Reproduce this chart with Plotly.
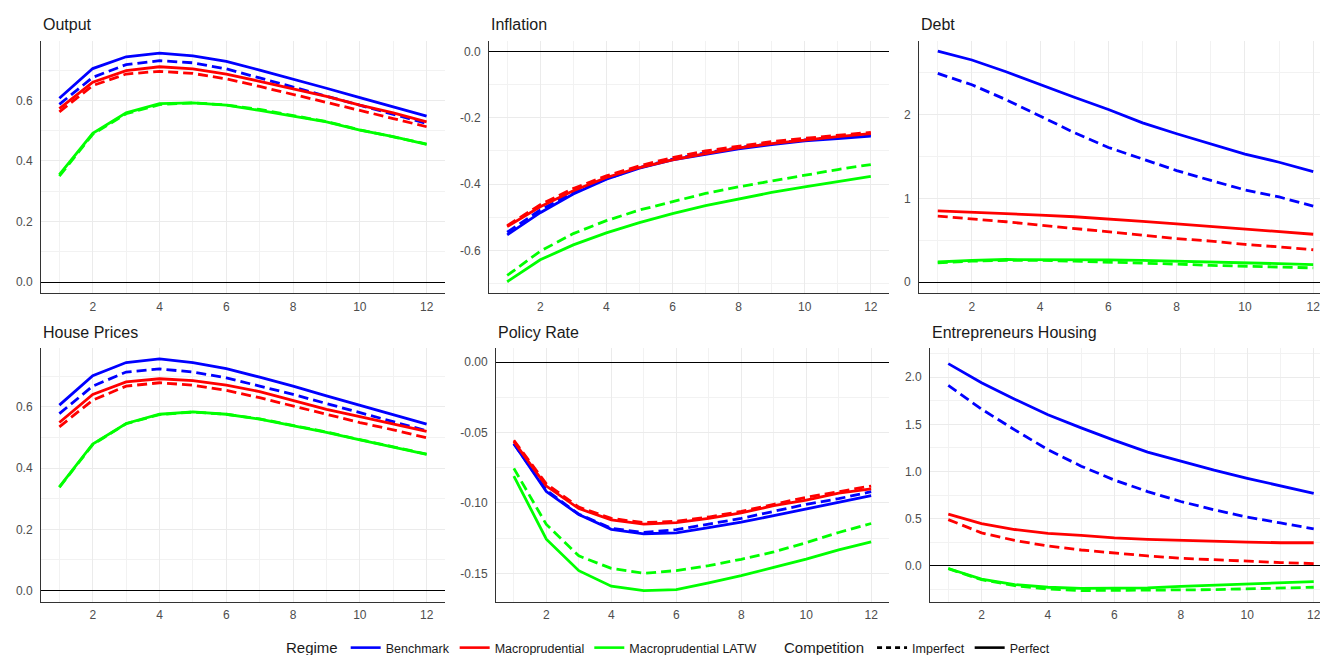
import plotly.graph_objects as go

periods = list(range(1, 13))
regimes = ["Benchmark", "Macroprudential", "Macroprudential LATW"]
competitions = ["Imperfect", "Perfect"]
panel_titles = ["Output", "Inflation", "Debt", "House Prices", "Policy Rate", "Entrepreneurs Housing"]

# ---- data: values for periods 1..12 ----
output_bench_perf = [0.607, 0.705, 0.744, 0.756, 0.747, 0.729, 0.700, 0.671, 0.640, 0.609, 0.578, 0.548]
output_bench_imp = [0.587, 0.676, 0.718, 0.731, 0.724, 0.704, 0.674, 0.644, 0.612, 0.584, 0.554, 0.524]
output_macro_perf = [0.573, 0.660, 0.698, 0.711, 0.704, 0.687, 0.663, 0.638, 0.613, 0.584, 0.559, 0.529]
output_macro_imp = [0.562, 0.649, 0.687, 0.696, 0.689, 0.671, 0.646, 0.620, 0.595, 0.567, 0.540, 0.513]
output_latw_perf = [0.355, 0.491, 0.559, 0.589, 0.592, 0.584, 0.567, 0.548, 0.529, 0.502, 0.480, 0.455]
output_latw_imp = [0.350, 0.488, 0.556, 0.586, 0.592, 0.585, 0.570, 0.550, 0.530, 0.503, 0.480, 0.456]

infl_bench_perf = [-0.553, -0.486, -0.430, -0.385, -0.352, -0.327, -0.310, -0.294, -0.281, -0.270, -0.263, -0.255]
infl_bench_imp = [-0.545, -0.478, -0.425, -0.384, -0.350, -0.325, -0.306, -0.290, -0.278, -0.267, -0.259, -0.252]
infl_macro_perf = [-0.528, -0.468, -0.420, -0.380, -0.350, -0.327, -0.308, -0.291, -0.278, -0.267, -0.257, -0.248]
infl_macro_imp = [-0.525, -0.462, -0.413, -0.375, -0.345, -0.320, -0.300, -0.285, -0.272, -0.262, -0.253, -0.244]
infl_latw_perf = [-0.694, -0.628, -0.583, -0.547, -0.516, -0.489, -0.465, -0.444, -0.425, -0.408, -0.392, -0.377]
infl_latw_imp = [-0.675, -0.602, -0.549, -0.510, -0.478, -0.452, -0.428, -0.408, -0.390, -0.372, -0.356, -0.341]

debt_bench_perf = [2.756, 2.650, 2.510, 2.354, 2.205, 2.060, 1.900, 1.770, 1.646, 1.528, 1.430, 1.319]
debt_bench_imp = [2.490, 2.354, 2.177, 1.980, 1.783, 1.606, 1.470, 1.331, 1.213, 1.100, 1.016, 0.906]
debt_macro_perf = [0.850, 0.835, 0.820, 0.800, 0.780, 0.755, 0.725, 0.695, 0.665, 0.635, 0.600, 0.571]
debt_macro_imp = [0.787, 0.755, 0.720, 0.680, 0.640, 0.600, 0.560, 0.520, 0.490, 0.450, 0.420, 0.386]
debt_latw_perf = [0.240, 0.260, 0.270, 0.270, 0.270, 0.265, 0.260, 0.250, 0.240, 0.230, 0.220, 0.210]
debt_latw_imp = [0.230, 0.250, 0.260, 0.260, 0.250, 0.240, 0.230, 0.215, 0.200, 0.190, 0.180, 0.170]

house_bench_perf = [0.606, 0.702, 0.745, 0.757, 0.745, 0.725, 0.697, 0.668, 0.636, 0.606, 0.574, 0.544]
house_bench_imp = [0.578, 0.668, 0.714, 0.724, 0.714, 0.695, 0.668, 0.641, 0.611, 0.582, 0.553, 0.522]
house_macro_perf = [0.549, 0.641, 0.682, 0.692, 0.686, 0.671, 0.650, 0.622, 0.592, 0.568, 0.544, 0.520]
house_macro_imp = [0.535, 0.622, 0.668, 0.679, 0.671, 0.654, 0.630, 0.603, 0.576, 0.549, 0.525, 0.499]
house_latw_perf = [0.339, 0.479, 0.546, 0.576, 0.584, 0.576, 0.560, 0.539, 0.517, 0.492, 0.469, 0.445]
house_latw_imp = [0.337, 0.477, 0.545, 0.575, 0.583, 0.576, 0.561, 0.540, 0.518, 0.493, 0.470, 0.446]

rate_bench_perf = [-0.0579, -0.0919, -0.1083, -0.1188, -0.1219, -0.1212, -0.1176, -0.1137, -0.1090, -0.1043, -0.0996, -0.0949]
rate_bench_imp = [-0.0580, -0.0910, -0.1080, -0.1180, -0.1210, -0.1190, -0.1150, -0.1110, -0.1060, -0.1010, -0.0970, -0.0920]
rate_macro_perf = [-0.0565, -0.0880, -0.1040, -0.1120, -0.1150, -0.1140, -0.1110, -0.1070, -0.1020, -0.0980, -0.0930, -0.0900]
rate_macro_imp = [-0.0555, -0.0865, -0.1030, -0.1110, -0.1140, -0.1130, -0.1100, -0.1060, -0.1010, -0.0960, -0.0920, -0.0880]
rate_latw_perf = [-0.0809, -0.1258, -0.1481, -0.1591, -0.1622, -0.1615, -0.1568, -0.1516, -0.1458, -0.1399, -0.1333, -0.1277]
rate_latw_imp = [-0.0755, -0.1153, -0.1376, -0.1465, -0.1500, -0.1480, -0.1446, -0.1400, -0.1348, -0.1282, -0.1210, -0.1146]

ent_bench_perf = [2.143, 1.940, 1.766, 1.601, 1.462, 1.329, 1.206, 1.108, 1.014, 0.927, 0.846, 0.769]
ent_bench_imp = [1.913, 1.661, 1.441, 1.231, 1.056, 0.909, 0.787, 0.682, 0.594, 0.517, 0.455, 0.392]
ent_macro_perf = [0.549, 0.448, 0.385, 0.343, 0.322, 0.297, 0.280, 0.269, 0.262, 0.252, 0.245, 0.245]
ent_macro_imp = [0.490, 0.350, 0.269, 0.210, 0.168, 0.133, 0.105, 0.080, 0.063, 0.045, 0.035, 0.024]
ent_latw_perf = [-0.028, -0.140, -0.199, -0.227, -0.238, -0.238, -0.234, -0.217, -0.203, -0.192, -0.182, -0.168]
ent_latw_imp = [-0.030, -0.147, -0.210, -0.245, -0.262, -0.262, -0.262, -0.255, -0.252, -0.245, -0.238, -0.227]

x_tick_vals = [2, 4, 6, 8, 10, 12]
y_tick_vals = [
    [0.0, 0.2, 0.4, 0.6],
    [-0.6, -0.4, -0.2, 0.0],
    [0, 1, 2],
    [0.0, 0.2, 0.4, 0.6],
    [-0.15, -0.10, -0.05, 0.00],
    [0.0, 0.5, 1.0, 1.5, 2.0],
]
y_tick_text = [
    ["0.0", "0.2", "0.4", "0.6"],
    ["-0.6", "-0.4", "-0.2", "0.0"],
    ["0", "1", "2"],
    ["0.0", "0.2", "0.4", "0.6"],
    ["-0.15", "-0.10", "-0.05", "0.00"],
    ["0.0", "0.5", "1.0", "1.5", "2.0"],
]

panels = [
    {"Benchmark": (output_bench_imp, output_bench_perf), "Macroprudential": (output_macro_imp, output_macro_perf), "Macroprudential LATW": (output_latw_imp, output_latw_perf)},
    {"Benchmark": (infl_bench_imp, infl_bench_perf), "Macroprudential": (infl_macro_imp, infl_macro_perf), "Macroprudential LATW": (infl_latw_imp, infl_latw_perf)},
    {"Benchmark": (debt_bench_imp, debt_bench_perf), "Macroprudential": (debt_macro_imp, debt_macro_perf), "Macroprudential LATW": (debt_latw_imp, debt_latw_perf)},
    {"Benchmark": (house_bench_imp, house_bench_perf), "Macroprudential": (house_macro_imp, house_macro_perf), "Macroprudential LATW": (house_latw_imp, house_latw_perf)},
    {"Benchmark": (rate_bench_imp, rate_bench_perf), "Macroprudential": (rate_macro_imp, rate_macro_perf), "Macroprudential LATW": (rate_latw_imp, rate_latw_perf)},
    {"Benchmark": (ent_bench_imp, ent_bench_perf), "Macroprudential": (ent_macro_imp, ent_macro_perf), "Macroprudential LATW": (ent_latw_imp, ent_latw_perf)},
]

# ---- styling ----
W, H = 1328, 655
FONT = "Liberation Sans, Arial"
colors = {"Benchmark": "#0000FF", "Macroprudential": "#FF0000", "Macroprudential LATW": "#00FF00"}
dashes = {"Imperfect": "10px,5px", "Perfect": "solid"}

# panel pixel boxes: (left, right, top, bottom)
boxes = [
    (33, 437, 33, 288), (481, 881, 33, 288), (911, 1324, 33, 288),
    (33, 437, 343, 599), (488, 881, 343, 599), (922, 1324, 343, 599),
]
y_ranges = [(-0.037, 0.797), (-0.729, 0.032), (-0.134, 2.88), (-0.036, 0.793), (-0.170, 0.0101), (-0.378, 2.31)]
y_minor = [0.1, 0.1, 0.5, 0.1, 0.025, 0.25]

fig = go.Figure()
grid_col = "#EBEBEB"
tickfont = dict(size=12, color="#4D4D4D", family=FONT)
for i, pdata in enumerate(panels):
    xa = "x" if i == 0 else f"x{i+1}"
    ya = "y" if i == 0 else f"y{i+1}"
    for reg in regimes:
        imp, perf = pdata[reg]
        for comp, vals in (("Imperfect", imp), ("Perfect", perf)):
            fig.add_trace(go.Scatter(
                x=periods, y=vals, mode="lines", xaxis=xa, yaxis=ya,
                line=dict(color=colors[reg], width=2.8, dash=dashes[comp]),
                showlegend=False, hoverinfo="skip"))
    l, r, t, b = boxes[i]
    key = "" if i == 0 else str(i + 1)
    fig.layout["xaxis" + key] = dict(
        domain=[l / W, r / W], range=[0.45, 12.55], anchor=ya,
        tickvals=x_tick_vals, ticktext=[str(v) for v in x_tick_vals],
        showgrid=True, gridcolor=grid_col, gridwidth=1,
        minor=dict(tick0=1, dtick=2, showgrid=True, gridcolor="#F2F2F2", gridwidth=0.7),
        showline=True, linecolor="#333333", linewidth=1, zeroline=False,
        ticks="", ticklabelstandoff=2, tickfont=tickfont, fixedrange=True)
    fig.layout["yaxis" + key] = dict(
        domain=[1 - b / H, 1 - t / H], range=list(y_ranges[i]), anchor=xa,
        tickvals=y_tick_vals[i], ticktext=y_tick_text[i],
        showgrid=True, gridcolor=grid_col, gridwidth=1,
        minor=dict(tick0=0, dtick=y_minor[i], showgrid=True, gridcolor="#F2F2F2", gridwidth=0.7),
        showline=True, linecolor="#333333", linewidth=1,
        zeroline=True, zerolinecolor="#000000", zerolinewidth=1,
        ticks="", ticklabelstandoff=5, tickfont=tickfont, fixedrange=True)
    fig.add_annotation(text=panel_titles[i], xref="paper", yref="paper",
                       x=l / W, y=1 - (t - 16) / H, xanchor="left", yanchor="middle",
                       showarrow=False, font=dict(size=16, color="#1A1A1A", family=FONT))

# legend entries
for reg in regimes:
    fig.add_trace(go.Scatter(x=[None], y=[None], mode="lines", name=reg,
                             line=dict(color=colors[reg], width=2.6), legend="legend"))
for comp in competitions:
    fig.add_trace(go.Scatter(x=[None], y=[None], mode="lines", name=comp,
                             line=dict(color="#000000", width=2.6, dash="5px,4px" if comp == "Imperfect" else "solid"),
                             legend="legend2"))

legend_common = dict(orientation="h", yanchor="middle", y=1 - 646 / H, xanchor="left",
                     font=dict(size=12.5, color="#1A1A1A", family=FONT),
                     itemwidth=30, bgcolor="rgba(0,0,0,0)", tracegroupgap=0)
fig.update_layout(
    width=W, height=H, margin=dict(l=0, r=0, t=0, b=0),
    plot_bgcolor="white", paper_bgcolor="white",
    legend=dict(**legend_common, x=276 / W,
                title=dict(text="Regime", font=dict(size=15, color="#1A1A1A", family=FONT))),
    legend2=dict(**legend_common, x=774 / W,
                 title=dict(text="Competition", font=dict(size=15, color="#1A1A1A", family=FONT))),
)

fig.write_html("out.html")
